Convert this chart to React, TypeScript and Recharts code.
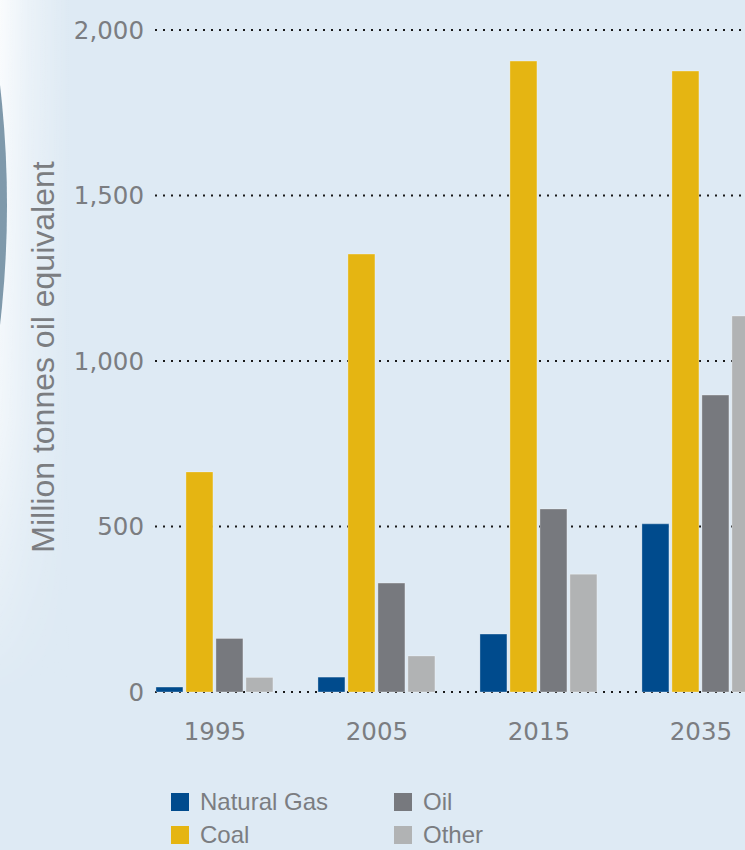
import React from 'react';
import { BarChart, Bar, XAxis, YAxis, CartesianGrid, Label } from 'recharts';

// Energy demand by fuel, million tonnes oil equivalent
const years = ['1995', '2005', '2015', '2035'];
const naturalGas = [15, 45, 175, 508];
const coal = [665, 1323, 1906, 1876];
const oil = [162, 329, 553, 897];
const other = [44, 109, 356, 1136];
const yTicks = [0, 500, 1000, 1500, 2000];

const series = [
  { key: 'gas', name: 'Natural Gas', color: '#004b8d' },
  { key: 'coal', name: 'Coal', color: '#e5b512' },
  { key: 'oil', name: 'Oil', color: '#77797e' },
  { key: 'other', name: 'Other', color: '#b1b3b4' },
];

const data = years.map((year, i) => ({
  x: i,
  year,
  gas: naturalGas[i],
  coal: coal[i],
  oil: oil[i],
  other: other[i],
}));

const FONT = '"Liberation Sans", Arial, sans-serif';
const DIGITS = '"DejaVu Sans", sans-serif';
const TEXT = '#7b7d81';

export default function App() {
  return (
    <div style={{ position: 'relative', width: 745, height: 850, background: '#deeaf4', overflow: 'hidden', fontFamily: FONT }}>
      <style>{'body{margin:0}'}</style>

      {/* curved backdrop on the left edge */}
      <svg width={120} height={700} style={{ position: 'absolute', left: 0, top: 0 }}>
        <defs>
          <linearGradient id="glow" x1="0" y1="0" x2="1" y2="0">
            <stop offset="0%" stopColor="#ffffff" stopOpacity={0.85} />
            <stop offset="40%" stopColor="#ffffff" stopOpacity={0.4} />
            <stop offset="100%" stopColor="#ffffff" stopOpacity={0} />
          </linearGradient>
          <linearGradient id="glowV" x1="0" y1="0" x2="0" y2="1">
            <stop offset="0%" stopColor="#ffffff" stopOpacity={1} />
            <stop offset="60%" stopColor="#ffffff" stopOpacity={0.7} />
            <stop offset="100%" stopColor="#ffffff" stopOpacity={0} />
          </linearGradient>
          <mask id="fadeV">
            <rect x={0} y={0} width={120} height={700} fill="url(#glowV)" />
          </mask>
          <linearGradient id="orb" x1="0" y1="0" x2="1" y2="0">
            <stop offset="0%" stopColor="#a9bcc8" />
            <stop offset="100%" stopColor="#7f99ab" />
          </linearGradient>
        </defs>
        <rect x={0} y={0} width={70} height={700} fill="url(#glow)" mask="url(#fadeV)" />
        <circle cx={-1025} cy={205} r={1032} fill="url(#orb)" />
      </svg>

      <div style={{ position: 'absolute', left: 0, top: 0 }}>
        <BarChart
          width={745}
          height={770}
          data={data}
          margin={{ top: 30, right: 0, bottom: 0, left: 0 }}
          barSize={27}
          barGap={3}
        >
          <CartesianGrid
            vertical={false}
            stroke="#1a1a1a"
            strokeWidth={2}
            strokeDasharray="2 6"
          />
          <XAxis
            dataKey="x"
            type="number"
            domain={[-0.37, 3.272]}
            allowDataOverflow
            ticks={[0, 1, 2, 3]}
            tickFormatter={(v: number) => years[v]}
            axisLine={false}
            tickLine={false}
            height={78}
            tickMargin={25}
            tick={{ fill: TEXT, fontSize: 24.5, fontFamily: DIGITS }}
          />
          <YAxis
            domain={[0, 2000]}
            ticks={yTicks}
            tickFormatter={(v: number) => v.toLocaleString('en-US')}
            axisLine={false}
            tickLine={false}
            width={155}
            tickMargin={5}
            tick={{ fill: TEXT, fontSize: 24.5, fontFamily: DIGITS }}
          >
            <Label
              content={() => (
                <text
                  x={43}
                  y={357}
                  transform="rotate(-90 43 357)"
                  textAnchor="middle"
                  dominantBaseline="central"
                  fill={TEXT}
                  fontSize={32}
                  fontFamily={FONT}
                >
                  Million tonnes oil equivalent
                </text>
              )}
            />
          </YAxis>
          {series.map((s) => (
            <Bar
              key={s.key}
              dataKey={s.key}
              name={s.name}
              fill={s.color}
              stroke="rgba(255,255,255,0.3)"
              strokeWidth={1}
              isAnimationActive={false}
            />
          ))}
        </BarChart>
      </div>

      {/* legend */}
      <div
        style={{
          position: 'absolute',
          left: 171,
          top: 790,
          display: 'grid',
          gridTemplateColumns: '223px 150px',
          rowGap: 9,
        }}
      >
        {[series[0], series[2], series[1], series[3]].map((s) => (
          <div key={s.key} style={{ display: 'flex', alignItems: 'center', height: 24 }}>
            <div style={{ width: 18, height: 18, background: s.color, marginRight: 11 }} />
            <span style={{ color: TEXT, fontSize: 24, lineHeight: '20px' }}>{s.name}</span>
          </div>
        ))}
      </div>
    </div>
  );
}
